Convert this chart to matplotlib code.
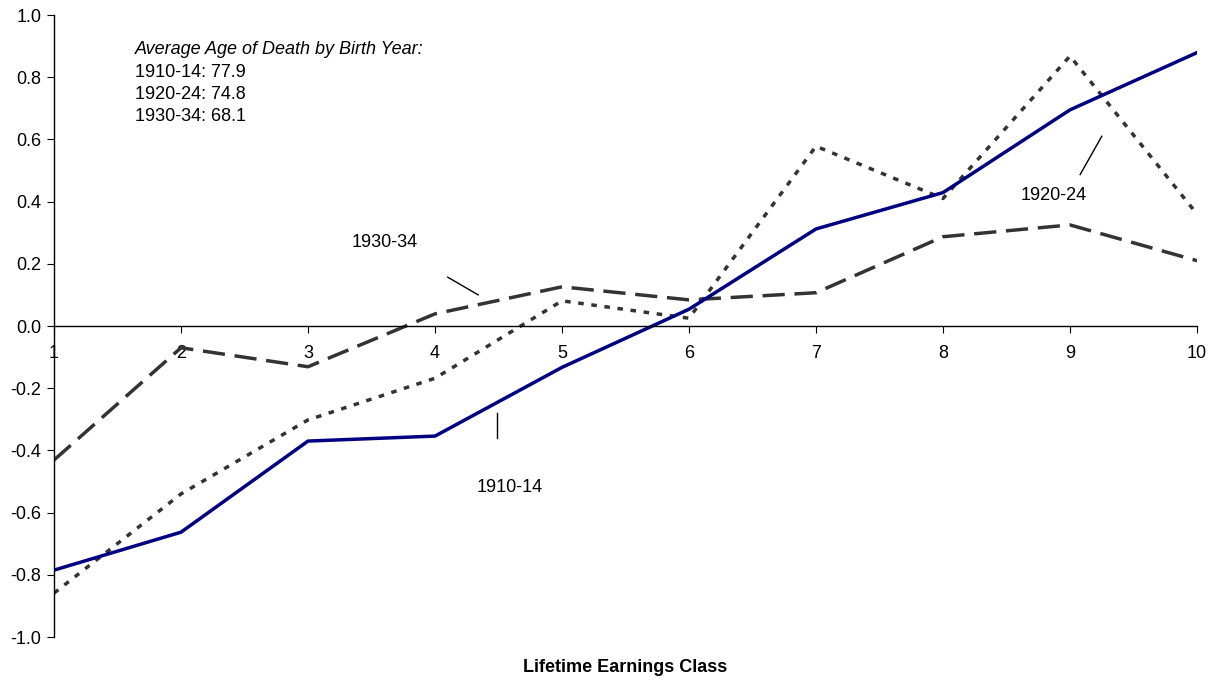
import matplotlib
matplotlib.use("Agg")
import matplotlib.pyplot as plt

plt.rcParams['font.family'] = ['Liberation Sans', 'DejaVu Sans']
plt.rcParams['lines.scale_dashes'] = False

classes = [1, 2, 3, 4, 5, 6, 7, 8, 9, 10]
s1910 = [-0.785, -0.663, -0.370, -0.354, -0.133, 0.054, 0.312, 0.429, 0.695, 0.879]
s1920 = [-0.859, -0.54, -0.302, -0.168, 0.081, 0.025, 0.578, 0.41, 0.868, 0.36]
s1930 = [-0.431, -0.07, -0.131, 0.039, 0.126, 0.084, 0.107, 0.287, 0.325, 0.21]
yticks = [-1.0, -0.8, -0.6, -0.4, -0.2, 0.0, 0.2, 0.4, 0.6, 0.8, 1.0]

fig = plt.figure(figsize=(12.21, 6.83), dpi=100)
ax = fig.add_axes([54/1221, 1-637/683, (1197-54)/1221, (637-15)/683])

ax.plot(classes, s1920, color='#333333', lw=2.5, dashes=(4, 5.5))
ax.plot(classes, s1930, color='#333333', lw=2.5, dashes=(16, 7))
ax.plot(classes, s1910, color='#000080', lw=2.5)

ax.set_xlim(1, 10)
ax.set_ylim(-1.0, 1.0)
ax.set_xticks(classes)
ax.set_yticks(yticks)
ax.set_yticklabels([f"{v:.1f}" for v in yticks])
ax.spines['top'].set_visible(False)
ax.spines['right'].set_visible(False)
ax.spines['bottom'].set_position(('data', 0))
ax.spines['bottom'].set_linewidth(1.0)
ax.spines['left'].set_linewidth(1.0)
ax.tick_params(axis='y', direction='out', length=5, labelsize=13, pad=4)
ax.tick_params(axis='x', direction='out', length=5, labelsize=13, pad=9)

fig.text(625/1221, 1-668/683, 'Lifetime Earnings Class', ha='center', va='center',
         fontsize=13, fontweight='bold')

ax.text(1.64, 0.89, 'Average Age of Death by Birth Year:', fontsize=13, style='italic',
        ha='left', va='center')
ax.text(1.64, 0.815, '1910-14: 77.9', fontsize=13, ha='left', va='center')
ax.text(1.64, 0.745, '1920-24: 74.8', fontsize=13, ha='left', va='center')
ax.text(1.64, 0.675, '1930-34: 68.1', fontsize=13, ha='left', va='center')

# series labels with leader lines
ax.text(3.6, 0.27, '1930-34', fontsize=13, ha='center', va='center')
ax.plot([4.1, 4.34], [0.157, 0.10], color='black', lw=1.0)
ax.text(4.59, -0.52, '1910-14', fontsize=13, ha='center', va='center')
ax.plot([4.49, 4.49], [-0.28, -0.36], color='black', lw=1.0)
ax.text(8.87, 0.42, '1920-24', fontsize=13, ha='center', va='center')
ax.plot([9.25, 9.08], [0.61, 0.487], color='black', lw=1.0)

fig.savefig('out.png', dpi=100)
